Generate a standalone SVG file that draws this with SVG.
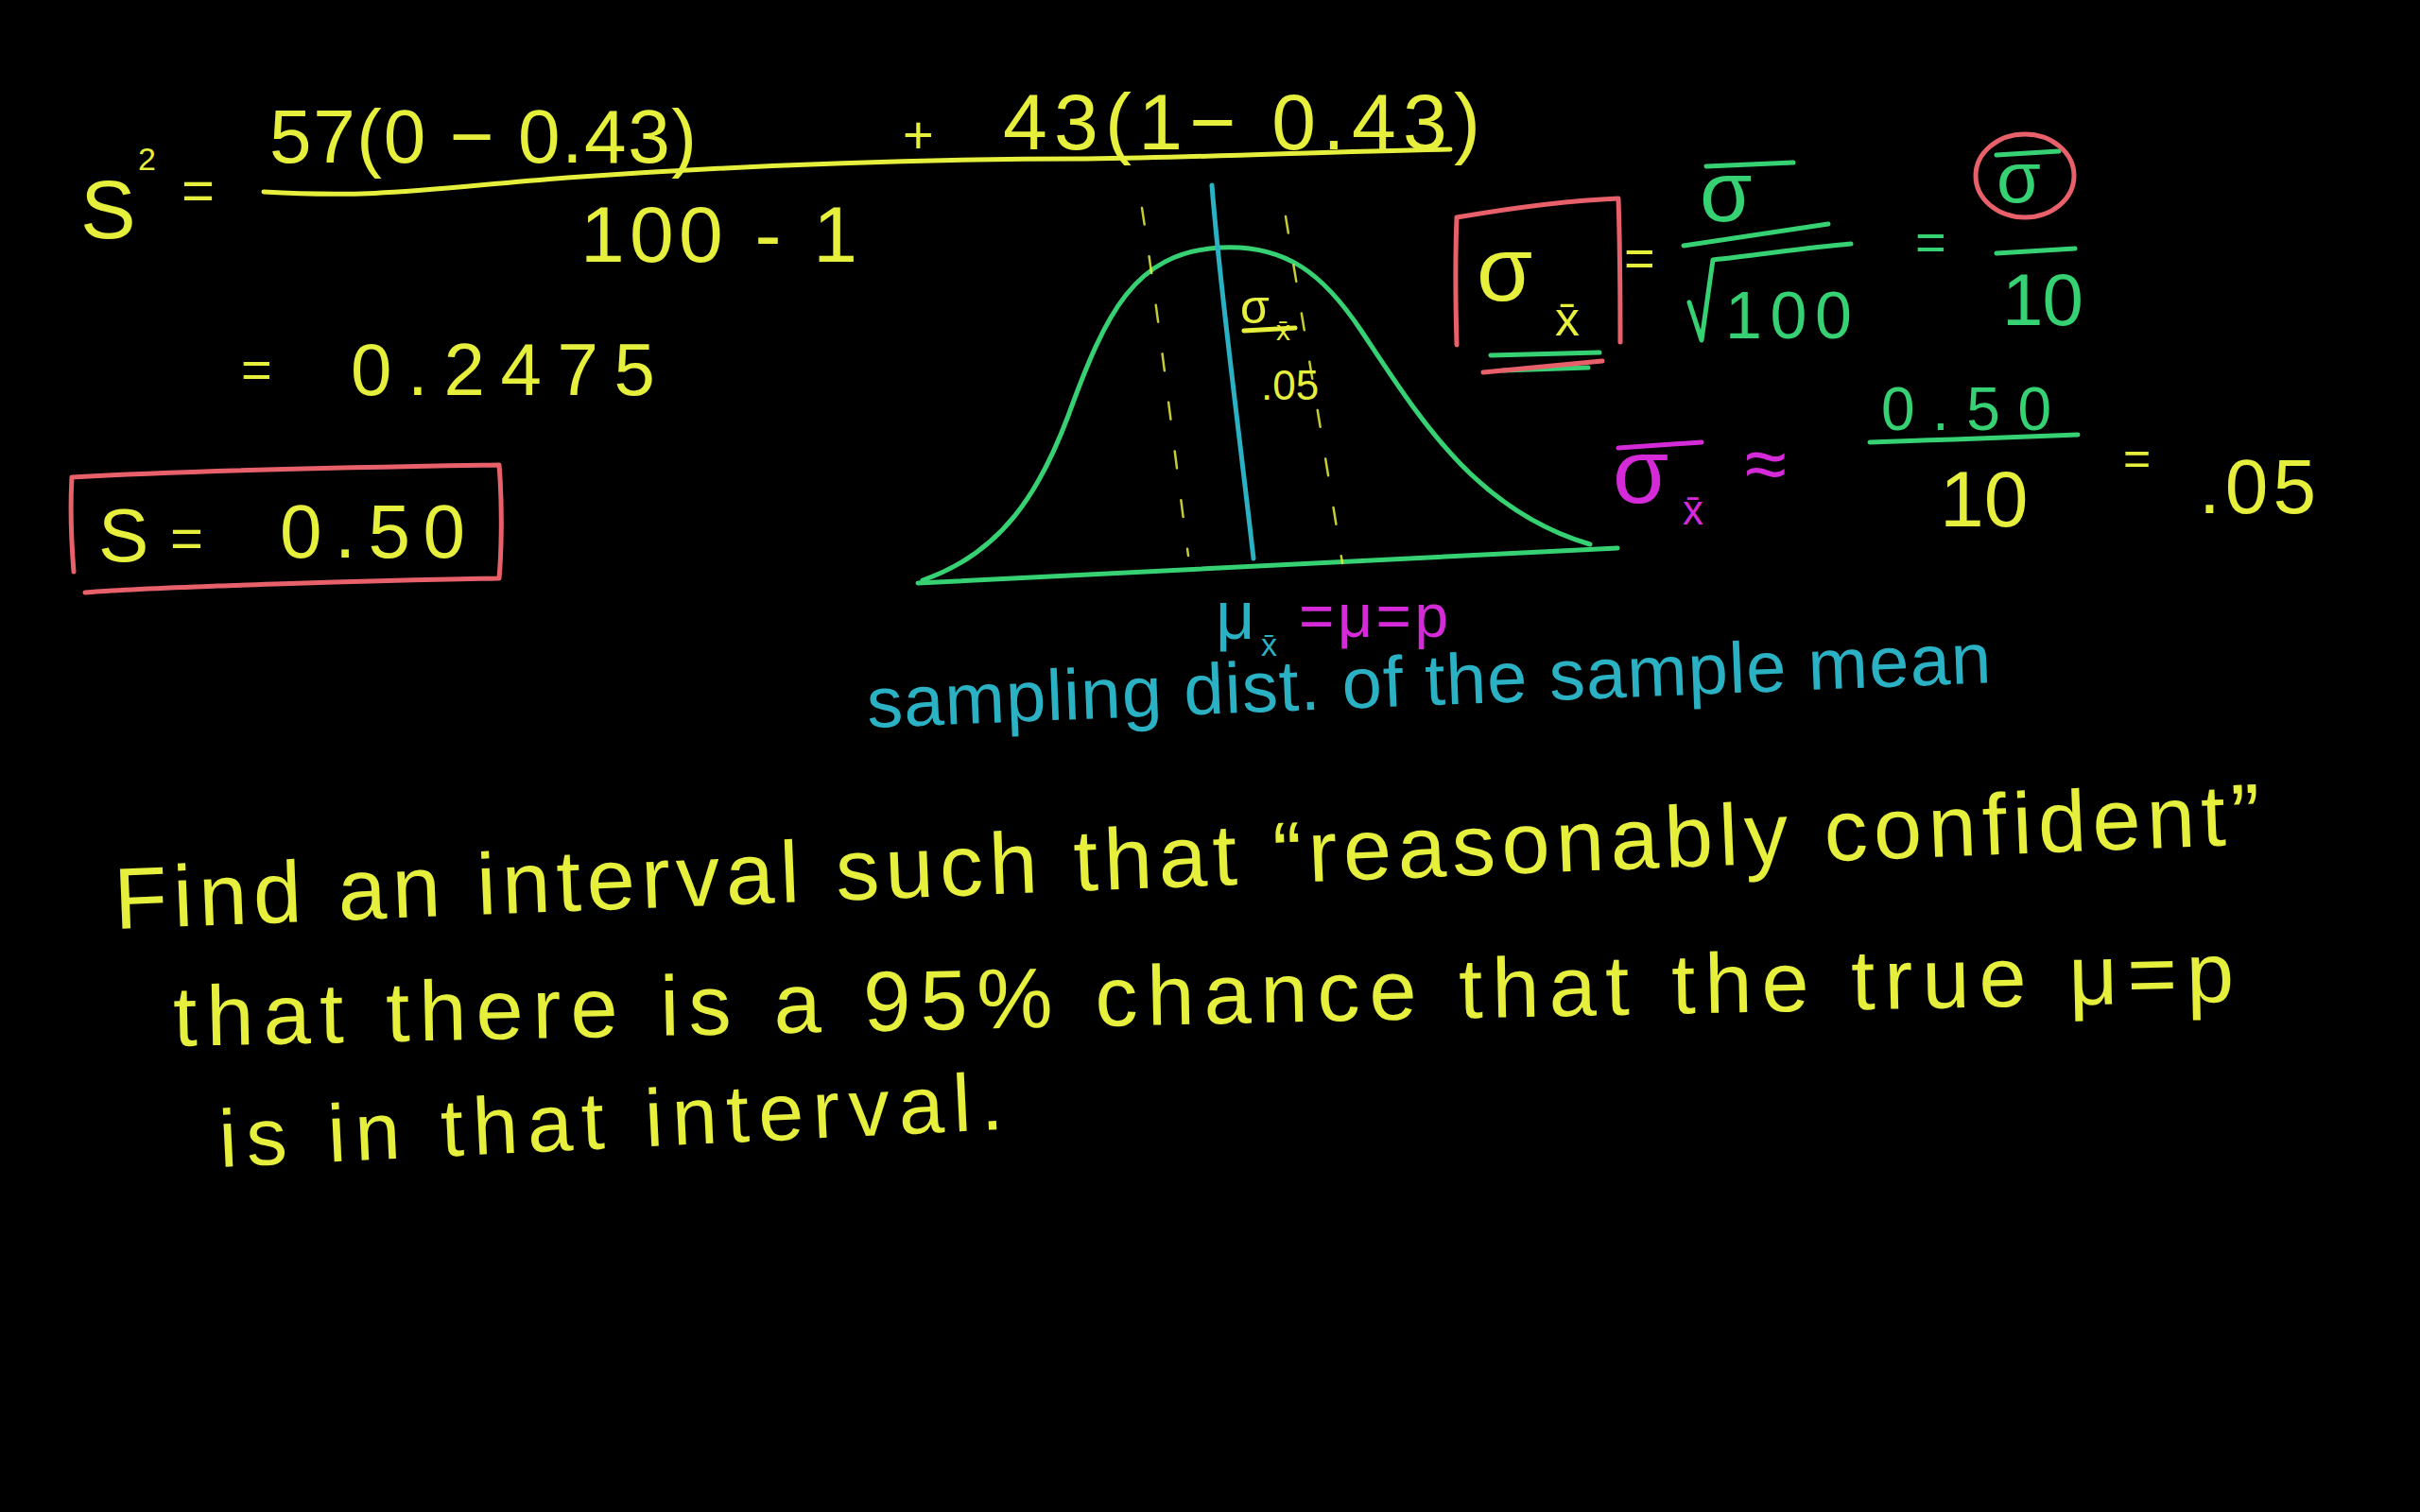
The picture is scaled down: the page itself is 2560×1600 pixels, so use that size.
<svg xmlns="http://www.w3.org/2000/svg" width="2560" height="1600" viewBox="0 0 2560 1600">
<style>
.t{font-family:"Liberation Sans","DejaVu Sans",sans-serif;}
.y{fill:#e6ef3c}.g{fill:#36d172}.m{fill:#d42ad8}.c{fill:#2ab2c4}
.ln{fill:none;stroke-width:5;stroke-linecap:round;stroke-linejoin:round}
.sy{stroke:#e6ef3c}.sg{stroke:#36d172}.sr{stroke:#e8606a}.sc{stroke:#2ab2c4}.sm{stroke:#d42ad8}
.dash{stroke-width:2.5;stroke-dasharray:18 34;opacity:0.85}
</style>
<rect width="2560" height="1600" fill="#000"/>

<g id="variance">
<text class="t y" x="85" y="252" font-size="88">S</text>
<text class="t y" x="146" y="180" font-size="34">2</text>
<text class="t y" x="192" y="222" font-size="60">=</text>
<text class="t y" x="285" y="172" font-size="80" textLength="452" lengthAdjust="spacing">57(0 − 0.43)</text>
<text class="t y" x="955" y="162" font-size="56">+</text>
<text class="t y" x="1061" y="158" font-size="84" textLength="505" lengthAdjust="spacing">43(1− 0.43)</text>
<path class="ln sy" d="M279,203 C400,210 450,200 600,188 C800,174 1000,168 1150,168 C1300,166 1400,160 1534,158"/>
<text class="t y" x="614" y="277" font-size="84" textLength="293" lengthAdjust="spacing">100 - 1</text>
<text class="t y" x="255" y="410" font-size="56">=</text>
<text class="t y" x="371" y="418" font-size="78" textLength="322" lengthAdjust="spacing">0.2475</text>
</g>

<g id="s-box">
<path class="ln sr" d="M76,505 C200,498 400,494 528,492 C532,540 530,590 528,612 C400,614 300,618 230,620 C180,622 120,624 90,627 M76,505 C74,540 76,580 78,605"/>
<text class="t y" x="104" y="594" font-size="80">S</text>
<text class="t y" x="180" y="590" font-size="60">=</text>
<text class="t y" x="296" y="590" font-size="80" textLength="196" lengthAdjust="spacing">0.50</text>
</g>

<g id="bell-curve">
<path class="ln sg" d="M971,617 Q1300,600 1711,580"/>
<path class="ln sg" d="M976,614 C1060,585 1100,520 1130,440 C1170,330 1200,268 1290,262 C1360,258 1400,290 1440,350 C1500,440 1560,540 1682,576"/>
<path class="ln sc" stroke-width="3" d="M1282,196 C1290,300 1310,450 1326,591"/>
<path class="ln sy dash" d="M1208,220 C1225,330 1240,460 1257,588"/>
<path class="ln sy dash" d="M1360,229 C1378,340 1400,470 1420,596"/>
<text class="t y" x="1312" y="342" font-size="50">σ</text>
<text class="t y" x="1350" y="360" font-size="30">x̄</text>
<path class="ln sy" stroke-width="4" d="M1316,350 L1370,347"/>
<text class="t y" x="1334" y="423" font-size="44">.05</text>
<text class="t c" x="1286" y="676" font-size="72">μ</text>
<text class="t c" x="1334" y="694" font-size="34">x̄</text>
<text class="t m" x="1374" y="674" font-size="64" textLength="158" lengthAdjust="spacing">=μ=p</text>
<text class="t c" x="918" y="770" font-size="76" textLength="1190" lengthAdjust="spacing" transform="rotate(-2.3 918 770)">sampling dist. of the sample mean</text>
</g>

<g id="sigma-box">
<path class="ln sr" d="M1541,230 C1600,220 1660,212 1712,210 C1714,270 1714,320 1714,362 M1541,230 C1539,280 1540,330 1541,365"/>
<text class="t y" x="1562" y="318" font-size="96">σ</text>
<text class="t y" x="1645" y="355" font-size="52">x̄</text>
<path class="ln sg" d="M1577,376 L1692,373 M1590,392 L1680,389"/>
<path class="ln sr" d="M1569,394 L1695,382"/>
<text class="t y" x="1718" y="292" font-size="56">=</text>
</g>

<g id="sigma-formula">
<text class="t g" x="1798" y="234" font-size="90">σ</text>
<path class="ln sg" d="M1805,176 L1897,172"/>
<path class="ln sg" d="M1781,260 L1934,237"/>
<path class="ln sg" d="M1787,320 L1800,360 L1812,275 C1860,270 1910,262 1958,258"/>
<text class="t g" x="1825" y="358" font-size="70" textLength="134" lengthAdjust="spacing">100</text>
<text class="t g" x="2026" y="275" font-size="56">=</text>
<text class="t g" x="2112" y="214" font-size="76">σ</text>
<path class="ln sg" d="M2112,164 L2178,160"/>
<ellipse class="ln sr" cx="2142" cy="186" rx="52" ry="44" stroke-width="6"/>
<path class="ln sg" d="M2112,268 L2195,263"/>
<text class="t g" x="2118" y="344" font-size="78" textLength="86" lengthAdjust="spacing">10</text>
</g>

<g id="sigma-estimate">
<text class="t m" x="1706" y="532" font-size="96">σ</text>
<path class="ln sm" d="M1712,474 L1800,468"/>
<text class="t m" x="1780" y="555" font-size="44">x̄</text>
<text class="t m" x="1846" y="518" font-size="80">≈</text>
<text class="t g" x="1990" y="455" font-size="64" textLength="180" lengthAdjust="spacing">0.50</text>
<path class="ln sg" d="M1978,468 C2050,466 2130,462 2198,460"/>
<text class="t y" x="2052" y="557" font-size="84">10</text>
<text class="t y" x="2246" y="502" font-size="50">=</text>
<text class="t y" x="2326" y="543" font-size="82" textLength="124" lengthAdjust="spacing">.05</text>
</g>

<g id="question">
<text class="t y" x="122" y="983" font-size="92" textLength="2272" lengthAdjust="spacing" transform="rotate(-2.27 122 983)">Find an interval  such that  “reasonably confident”</text>
<text class="t y" x="184" y="1107" font-size="90" textLength="2180" lengthAdjust="spacing" transform="rotate(-1.24 184 1107)">that there is a 95% chance that the true μ=p</text>
<text class="t y" x="233" y="1235" font-size="86" textLength="830" lengthAdjust="spacing" transform="rotate(-2.77 233 1235)">is in that interval.</text>
</g>
</svg>
